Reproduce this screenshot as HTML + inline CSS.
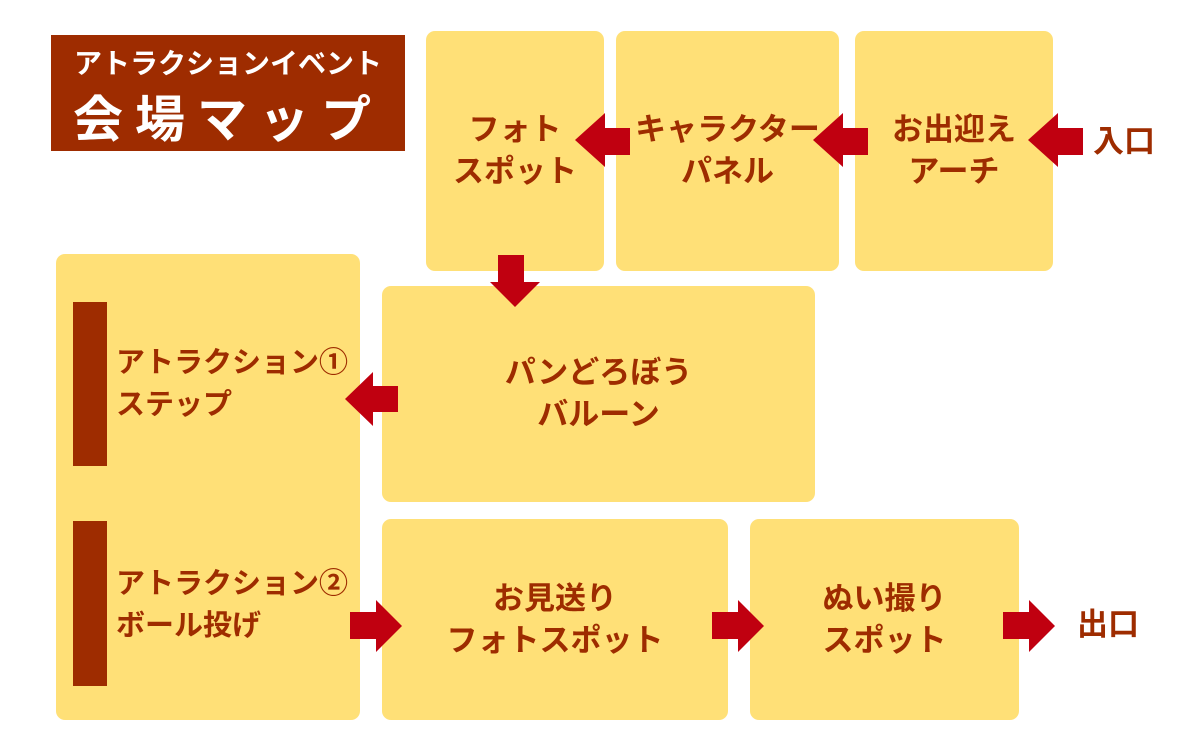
<!DOCTYPE html>
<html><head><meta charset="utf-8"><style>
body{margin:0;width:1200px;height:755px;background:#fff;position:relative;overflow:hidden;font-family:"Liberation Sans","Noto Sans CJK JP",sans-serif;}
.b{position:absolute;background:#FFE077;border-radius:9px;}
.t{position:absolute;color:#9E2C00;font-weight:bold;font-size:31px;line-height:42px;text-align:center;display:flex;align-items:center;justify-content:center;}
.bar{position:absolute;background:#9E2C00;left:73px;width:34px;}
svg{position:absolute;left:0;top:0}
</style></head><body>
<div style="position:absolute;left:51px;top:35px;width:354px;height:116px;background:#9E2C00;"></div>
<div style="position:absolute;left:51px;top:42px;width:354px;text-align:center;color:#fff;font-weight:bold;font-size:28px;letter-spacing:0px;">アトラクションイベント</div>
<div style="position:absolute;left:51px;top:80px;width:354px;text-align:center;color:#fff;font-weight:bold;font-size:50px;letter-spacing:12px;">会場マップ</div>

<div class="b" style="left:426px;top:31px;width:178px;height:240px"></div>
<div class="b" style="left:616px;top:31px;width:223px;height:240px"></div>
<div class="b" style="left:855px;top:31px;width:198px;height:240px"></div>
<div class="b" style="left:56px;top:254px;width:304px;height:466px"></div>
<div class="b" style="left:382px;top:286px;width:433px;height:216px"></div>
<div class="b" style="left:382px;top:519px;width:346px;height:201px"></div>
<div class="b" style="left:750px;top:519px;width:269px;height:201px"></div>
<div class="bar" style="top:302px;height:164px"></div>
<div class="bar" style="top:521px;height:165px"></div>

<div class="t" style="left:426px;top:31px;width:178px;height:240px">フォト<br>スポット</div>
<div class="t" style="left:616px;top:31px;width:223px;height:240px">キャラクター<br>パネル</div>
<div class="t" style="left:855px;top:31px;width:198px;height:240px">お出迎え<br>アーチ</div>
<div class="t" style="left:382px;top:286px;width:433px;height:216px">パンどろぼう<br>バルーン</div>
<div class="t" style="left:382px;top:519px;width:346px;height:201px">お見送り<br>フォトスポット</div>
<div class="t" style="left:750px;top:519px;width:269px;height:201px">ぬい撮り<br>スポット</div>
<div class="t" style="left:116px;top:342px;text-align:left;display:block;font-size:29px;">アトラクション①<br>ステップ</div>
<div class="t" style="left:116px;top:563px;text-align:left;display:block;font-size:29px;">アトラクション②<br>ボール投げ</div>
<div class="t" style="left:1093px;top:121px;">入口</div>
<div class="t" style="left:1077px;top:604px;">出口</div>

<svg width="1200" height="755" fill="#C00010">
<polygon points="630,128 605,128 605,113 575,140 605,167 605,155 630,155"/>
<polygon points="868,128 843,128 843,113 813,140 843,167 843,155 868,155"/>
<polygon points="1083,128 1058,128 1058,113 1028,140 1058,167 1058,155 1083,155"/>
<polygon points="398,386 373,386 373,372 345,399 373,426 373,412 398,412"/>
<polygon points="498,255 524,255 524,282 540,282 515,307 490,282 498,282"/>
<polygon points="350,612 376,612 376,600 402,626 376,652 376,639 350,639"/>
<polygon points="712,612 738,612 738,600 764,626 738,652 738,639 712,639"/>
<polygon points="1003,612 1029,612 1029,600 1055,626 1029,652 1029,639 1003,639"/>
</svg>
</body></html>
